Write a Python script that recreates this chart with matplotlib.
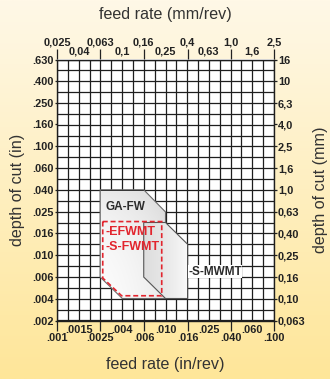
import numpy as np
import matplotlib
matplotlib.use("Agg")
import matplotlib.pyplot as plt
from matplotlib import font_manager
from matplotlib.patches import Polygon

# ---------------- data ----------------
feed_major_in = [0.001, 0.0025, 0.0063, 0.016, 0.040, 0.100]
feed_major_in_labels = [".001", ".0025", ".006", ".016", ".040", ".100"]
feed_minor_in = [0.0016, 0.004, 0.010, 0.025, 0.063]
feed_minor_in_labels = [".0015", ".004", ".010", ".025", ".060"]

feed_major_mm_labels = ["0,025", "0,063", "0,16", "0,4", "1,0", "2,5"]
feed_minor_mm_labels = ["0,04", "0,1", "0,25", "0,63", "1,6"]

depth_in = [0.0025, 0.004, 0.0063, 0.010, 0.016, 0.025, 0.040, 0.063, 0.100,
            0.160, 0.250, 0.400, 0.630]
depth_in_labels = [".002", ".004", ".006", ".010", ".016", ".025", ".040", ".060",
                   ".100", ".160", ".250", ".400", ".630"]
depth_mm_labels = ["0,063", "0,10", "0,16", "0,25", "0,40", "0,63", "1,0", "1,6",
                   "2,5", "4,0", "6,3", "10", "16"]

# application regions (feed in/rev, depth of cut in)
ga_fw_feed = [0.0025, 0.0063, 0.010, 0.010, 0.004, 0.0025]
ga_fw_depth = [0.040, 0.040, 0.025, 0.004, 0.004, 0.0063]
s_mwmt_feed = [0.0063, 0.010, 0.016, 0.016, 0.010, 0.0063]
s_mwmt_depth = [0.020, 0.020, 0.0126, 0.004, 0.004, 0.0063]
fwmt_feed = [0.00264, 0.00923, 0.00923, 0.00394, 0.00264]
fwmt_depth = [0.0204, 0.0204, 0.00424, 0.00424, 0.00617]

MM = 25.4

# ---------------- fonts ----------------
names = {f.name for f in font_manager.fontManager.ttflist}
if "Liberation Sans Narrow" in names:
    LABF, LABS = "Liberation Sans Narrow", 14
    TICKF, TICKS = "Liberation Sans Narrow", 9
else:
    LABF, LABS = "Liberation Sans", 11.6
    TICKF, TICKS = "Liberation Sans", 7.9
TXT = "#333333"
TCOL = "#222222"

W, H = 330, 379
fig = plt.figure(figsize=(W / 100, H / 100), dpi=100)

# background gradient
bg = fig.add_axes([0, 0, 1, 1], zorder=-5)
top = np.array([255, 248, 231]) / 255
bot = np.array([254, 230, 153]) / 255
t = np.linspace(0, 1, 256)[:, None]
grad = (top[None, :] * (1 - t) + bot[None, :] * t)[:, None, :]
bg.imshow(grad, aspect="auto", extent=[0, 1, 0, 1])
bg.axis("off")

L, R, T, B = 57, 274, 59.5, 320.7
ax = fig.add_axes([L / W, 1 - B / H, (R - L) / W, (B - T) / H], zorder=1)
ax.set_facecolor("white")
ax.set_xscale("log")
ax.set_yscale("log")
ax.set_xlim(0.001, 0.1)
ax.set_ylim(10 ** -2.6, 10 ** -0.2)

# grid (0.1 decade cells)
for xv in np.logspace(-3, -1, 21):
    ax.axvline(xv, color="#1e1e1e", lw=0.9, zorder=1)
for yv in np.logspace(-2.6, -0.2, 25):
    ax.axhline(yv, color="#1e1e1e", lw=0.9, zorder=1)


def shaded_polygon(xs, ys, c0, c1, direction, z, edge):
    """Polygon filled with a linear gray gradient (c0 -> c1)."""
    poly = Polygon(list(zip(xs, ys)), closed=True, facecolor="none",
                   edgecolor=edge, lw=0.8, zorder=z + 0.5)
    ax.add_patch(poly)
    n = 64
    s = np.linspace(0, 1, n)
    if direction == "diag":
        g = (s[None, :] + s[::-1][:, None]) / 2
    else:
        g = np.tile(s, (n, 1))
    c0 = np.array(c0) / 255
    c1 = np.array(c1) / 255
    img = c0[None, None, :] * (1 - g[..., None]) + c1[None, None, :] * g[..., None]
    im = ax.imshow(img, extent=[min(xs), max(xs), min(ys), max(ys)],
                   aspect="auto", zorder=z, interpolation="bilinear", origin="upper")
    im.set_clip_path(poly)


shaded_polygon(ga_fw_feed, ga_fw_depth, (252, 252, 252), (214, 214, 214), "diag", 3, "#6a6a6a")
shaded_polygon(s_mwmt_feed, s_mwmt_depth, (222, 222, 222), (250, 250, 250), "h", 4, "#555555")

ax.add_patch(Polygon(list(zip(fwmt_feed, fwmt_depth)), closed=True, fill=False,
                     edgecolor="#e2252e", lw=1.2, linestyle=(0, (3, 1.7)), zorder=5))

ax.text(0.00279, 0.0277, "GA-FW", fontfamily="Liberation Sans", fontweight="bold",
        fontsize=8.5, color="#2b2b2b", ha="left", va="center", zorder=6)
ax.text(0.00279, 0.0163, "-EFWMT", fontfamily="Liberation Sans", fontweight="bold",
        fontsize=9, color="#e2252e", ha="left", va="center", zorder=6)
ax.text(0.00279, 0.0120, "-S-FWMT", fontfamily="Liberation Sans", fontweight="bold",
        fontsize=9, color="#e2252e", ha="left", va="center", zorder=6)
ax.text(0.0162, 0.00708, "-S-MWMT", fontfamily="Liberation Sans", fontweight="bold",
        fontsize=8.5, color="#2b2b2b", ha="left", va="center", zorder=6,
        bbox=dict(facecolor="white", edgecolor="none", pad=0.3))

for s in ax.spines.values():
    s.set_color("#1e1e1e")
    s.set_linewidth(1.0)
    s.set_zorder(7)

# bottom axis (in/rev)
ax.set_xticks(feed_major_in, labels=feed_major_in_labels)
ax.set_xticks(feed_minor_in, labels=feed_minor_in_labels, minor=True)
ax.tick_params(axis="x", which="major", length=7.2, width=0.9, pad=1.8,
               color="#222222", direction="out")
ax.tick_params(axis="x", which="minor", length=0, pad=3.0)
# left axis (in)
ax.set_yticks(depth_in, labels=depth_in_labels)
ax.set_yticks([], minor=True)
ax.tick_params(axis="y", which="major", length=1.5, width=0.9, pad=0.8,
               color="#222222")
for lab in ax.get_xticklabels(which="both") + ax.get_yticklabels():
    lab.set_fontfamily(TICKF)
    lab.set_fontweight("bold")
    lab.set_fontsize(TICKS)
    lab.set_color(TCOL)

# top axis (mm/rev)
secx = ax.secondary_xaxis("top", functions=(lambda v: v * MM, lambda v: v / MM))
secx.set_xticks(np.array(feed_major_in) * MM, labels=feed_major_mm_labels)
secx.set_xticks(np.array(feed_minor_in) * MM, labels=feed_minor_mm_labels, minor=True)
secx.tick_params(axis="x", which="major", length=7.2, width=0.9, pad=1.4,
                 color="#222222", direction="out")
secx.tick_params(axis="x", which="minor", length=0, pad=1.8)
for s in secx.spines.values():
    s.set_visible(False)

# right axis (mm)
secy = ax.secondary_yaxis("right", functions=(lambda v: v * MM, lambda v: v / MM))
secy.set_yticks(np.array(depth_in) * MM, labels=depth_mm_labels)
secy.set_yticks([], minor=True)
secy.tick_params(axis="y", which="major", length=2, width=0.9, pad=0.8,
                 color="#222222")
for s in secy.spines.values():
    s.set_visible(False)

for lab in (secx.get_xticklabels(which="both") + secy.get_yticklabels()):
    lab.set_fontfamily(TICKF)
    lab.set_fontweight("bold")
    lab.set_fontsize(TICKS)
    lab.set_color(TCOL)

# axis titles
fig.text(165 / W, 1 - 15 / H, "feed rate (mm/rev)", fontfamily=LABF, fontsize=LABS,
         color=TXT, ha="center", va="center")
fig.text(165 / W, 1 - 364 / H, "feed rate (in/rev)", fontfamily=LABF, fontsize=LABS,
         color=TXT, ha="center", va="center")
fig.text(18 / W, 1 - 190 / H, "depth of cut (in)", fontfamily=LABF, fontsize=LABS,
         color=TXT, ha="center", va="center", rotation=90)
fig.text(321 / W, 1 - 190 / H, "depth of cut (mm)", fontfamily=LABF, fontsize=LABS,
         color=TXT, ha="center", va="center", rotation=90)

fig.savefig("out.png", dpi=100)
